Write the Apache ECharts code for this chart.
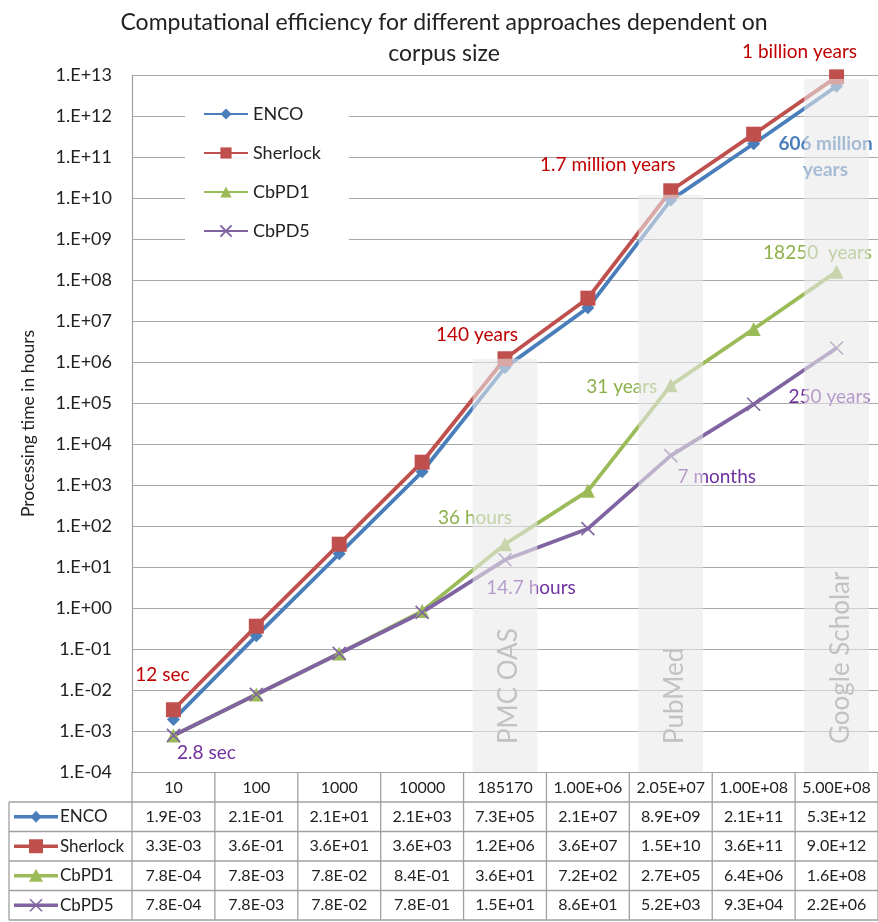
<!DOCTYPE html>
<html>
<head>
<meta charset="utf-8">
<script src="https://cdn.jsdelivr.net/npm/echarts@6/dist/echarts.min.js"></script>
<style>
  html, body { margin: 0; padding: 0; background: #fff; }
  #chart { width: 878px; height: 922px; }
</style>
</head>
<body>
<div id="chart"></div>
<script>
// Corpus sizes (number of documents) and processing time in hours per approach
const categories = ['10', '100', '1000', '10000', '185170', '1.00E+06', '2.05E+07', '1.00E+08', '5.00E+08'];
const seriesNames = ['ENCO', 'Sherlock', 'CbPD1', 'CbPD5'];
const enco     = [1.9e-3, 2.1e-1, 2.1e1, 2.1e3, 7.3e5, 2.1e7, 8.9e9, 2.1e11, 5.3e12];
const sherlock = [3.3e-3, 3.6e-1, 3.6e1, 3.6e3, 1.2e6, 3.6e7, 1.5e10, 3.6e11, 9.0e12];
const cbpd1    = [7.8e-4, 7.8e-3, 7.8e-2, 8.4e-1, 3.6e1, 7.2e2, 2.7e5, 6.4e6, 1.6e8];
const cbpd5    = [7.8e-4, 7.8e-3, 7.8e-2, 7.8e-1, 1.5e1, 8.6e1, 5.2e3, 9.3e4, 2.2e6];

// Real-world corpora highlighted on the chart
const corpusNames = ['PMC OAS', 'PubMed', 'Google Scholar'];
const corpusIndex = [4, 6, 8];
const corpusTop   = [1.2e6, 1.2e10, 8.0e12];

// Human-readable durations attached to selected points: [series, category index, text]
const durationNotes = [
  ['Sherlock', 0, '12 sec'],
  ['CbPD5', 0, '2.8 sec'],
  ['Sherlock', 4, '140 years'],
  ['CbPD1', 4, '36 hours'],
  ['CbPD5', 4, '14.7 hours'],
  ['CbPD1', 6, '31 years'],
  ['CbPD5', 6, '7 months'],
  ['Sherlock', 6, '1.7 million years'],
  ['ENCO', 8, '606 million\nyears'],
  ['Sherlock', 8, '1 billion years'],
  ['CbPD1', 8, '18250  years'],
  ['CbPD5', 8, '250 years']
];

const yMin = 1e-4, yMax = 1e13;

const FONT = 'Lato';
const seriesValues = { ENCO: enco, Sherlock: sherlock, CbPD1: cbpd1, CbPD5: cbpd5 };
const seriesColor = { ENCO: '#4a7ebb', Sherlock: '#c0504d', CbPD1: '#9bbb59', CbPD5: '#8064a2' };
const crossPath = 'path://M0,0L10,10M10,0L0,10';
const seriesSymbol = {
  ENCO: ['diamond', 13],
  Sherlock: ['rect', 15],
  CbPD1: ['triangle', 14],
  CbPD5: [crossPath, 13]
};
const noteColor = { ENCO: '#4a7ebb', Sherlock: '#c00000', CbPD1: '#8cb04a', CbPD5: '#7030a0' };
// label placement (pixel offsets from the point)
const noteOffset = {
  'Sherlock-0': [-11, -35],
  'CbPD5-0': [33, 17],
  'Sherlock-4': [-28, -24],
  'CbPD1-4': [-30, -26],
  'CbPD5-4': [26, 28],
  'CbPD1-6': [-49, 2],
  'CbPD5-6': [46, 21],
  'Sherlock-6': [-63, -26],
  'ENCO-8': [-11, 71],
  'Sherlock-8': [-37, -25],
  'CbPD1-8': [-19, -19],
  'CbPD5-8': [-7, 49]
};

function sci(v) {
  const parts = v.toExponential(1).split('e');
  const e = parseInt(parts[1], 10);
  return parts[0].toUpperCase() + 'E' + (e < 0 ? '-' : '+') + String(Math.abs(e)).padStart(2, '0');
}
function powLabel(v) {
  const e = Math.round(Math.log10(v));
  return '1.E' + (e < 0 ? '-' : '+') + String(Math.abs(e)).padStart(2, '0');
}

function buildSeries(name) {
  const vals = seriesValues[name];
  const data = vals.map((v, i) => {
    const note = durationNotes.find(n => n[0] === name && n[1] === i);
    if (!note) return v;
    const isEnco = name === 'ENCO';
    return {
      value: v,
      label: {
        show: true,
        position: 'inside',
        offset: noteOffset[name + '-' + i],
        formatter: note[2],
        color: noteColor[name],
        fontFamily: FONT,
        fontSize: 19,
        fontWeight: isEnco ? 'bold' : 'normal',
        lineHeight: 26,
        align: 'center',
        verticalAlign: 'middle'
      }
    };
  });
  const isCross = name === 'CbPD5';
  return {
    name: name,
    type: 'line',
    data: data,
    z: 2,
    symbol: seriesSymbol[name][0],
    symbolSize: seriesSymbol[name][1],
    showAllSymbol: true,
    lineStyle: { color: seriesColor[name], width: 3.8 },
    itemStyle: isCross
      ? { color: seriesColor[name], borderColor: seriesColor[name], borderWidth: 1.6 }
      : { color: seriesColor[name] },
    emphasis: { disabled: true },
    animation: false
  };
}

const chart = echarts.init(document.getElementById('chart'), null, { renderer: 'canvas' });

const option = {
  animation: false,
  backgroundColor: '#ffffff',
  textStyle: { fontFamily: FONT },
  title: {
    text: 'Computational efficiency for different approaches dependent on\ncorpus size',
    left: 439,
    textAlign: 'center',
    top: 2,
    textStyle: { fontFamily: FONT, fontSize: 23, fontWeight: 'normal', color: '#222', lineHeight: 31 }
  },
  legend: {
    orient: 'vertical',
    left: 185,
    top: 92,
    padding: [13, 28, 13, 18],
    backgroundColor: '#ffffff',
    itemGap: 21,
    itemWidth: 44,
    itemHeight: 14,
    data: seriesNames,
    textStyle: { fontFamily: FONT, fontSize: 18, color: '#222', lineHeight: 18 },
    selectedMode: false
  },
  grid: { left: 132, top: 75, width: 750, height: 697 },
  xAxis: {
    type: 'category',
    data: categories,
    boundaryGap: true,
    axisLine: { lineStyle: { color: '#a0a0a0', width: 1.2 } },
    axisTick: { show: false },
    axisLabel: { interval: 0, margin: 8, fontFamily: FONT, fontSize: 16, color: '#222' },
    splitLine: { show: false }
  },
  yAxis: {
    type: 'log',
    logBase: 10,
    min: yMin,
    max: yMax,
    interval: 1,
    splitNumber: 17,
    name: 'Processing time in hours',
    nameLocation: 'middle',
    nameGap: 95,
    nameTextStyle: { fontFamily: FONT, fontSize: 17.5, color: '#222' },
    axisLine: { show: true, lineStyle: { color: '#a0a0a0', width: 1.2 } },
    axisTick: { show: false },
    axisLabel: { margin: 20, fontFamily: FONT, fontSize: 18, color: '#222', formatter: powLabel },
    splitLine: { show: true, lineStyle: { color: '#a8a8a8', width: 1.2 } },
    minorTick: { show: false },
    minorSplitLine: { show: false }
  },
  series: seriesNames.map(buildSeries).concat([{
    name: 'corpora',
    type: 'custom',
    z: 10,
    silent: true,
    data: corpusIndex.map((ci, k) => [ci, corpusTop[k]]),
    encode: { x: 0, y: 1 },
    renderItem: function (params, api) {
      const idx = api.value(0);
      const top = api.value(1);
      const pTop = api.coord([idx, top]);
      const pBot = api.coord([idx, yMin]);
      const w = api.size([1, 1])[0] * 0.78;
      return {
        type: 'group',
        children: [
          {
            type: 'rect',
            shape: { x: pTop[0] - w / 2, y: pTop[1], width: w, height: pBot[1] - pTop[1] },
            style: { fill: 'rgba(232,232,232,0.58)' }
          },
          {
            type: 'text',
            x: pTop[0] + 4,
            y: pBot[1] - 28,
            rotation: Math.PI / 2,
            style: {
              text: corpusNames[params.dataIndex],
              fill: '#c2c2c2',
              font: '26px ' + FONT,
              align: 'left',
              verticalAlign: 'middle'
            }
          }
        ]
      };
    },
    animation: false
  }])
};

chart.setOption(option);

// Data table underneath the plot, aligned with the category columns
(function drawTable() {
  const lineColor = '#a0a0a0';
  const centers = categories.map((c, i) => chart.convertToPixel({ xAxisIndex: 0 }, i));
  const colW = centers[1] - centers[0];
  const left = 9;
  const axisX = centers[0] - colW / 2;
  const rightX = centers[centers.length - 1] + colW / 2;
  const headTop = chart.convertToPixel({ yAxisIndex: 0 }, yMin);
  const headH = 30;
  const rowH = 29.5;
  const g = [];
  const line = (x1, y1, x2, y2) => g.push({
    type: 'line', silent: true, z: 5,
    shape: { x1: x1, y1: y1, x2: x2, y2: y2 },
    style: { stroke: lineColor, lineWidth: 1.3 }
  });
  const text = (t, x, y, size, align) => g.push({
    type: 'text', silent: true, z: 5, x: x, y: y,
    style: { text: t, font: size + 'px ' + FONT, fill: '#222', align: align || 'center', verticalAlign: 'middle' }
  });

  const bodyTop = headTop + headH;
  const bottom = bodyTop + rowH * seriesNames.length;
  // vertical dividers
  for (let i = 0; i <= categories.length; i++) {
    const x = axisX + i * colW;
    line(x, headTop, x, bottom);
  }
  line(left, bodyTop, left, bottom);
  // horizontal rules
  for (let r = 0; r <= seriesNames.length; r++) {
    const y = bodyTop + r * rowH;
    line(left, y, rightX, y);
  }

  seriesNames.forEach((name, r) => {
    const cy = bodyTop + r * rowH + rowH / 2;
    const col = seriesColor[name];
    // legend key: line with marker
    g.push({ type: 'line', silent: true, z: 6, shape: { x1: 14, y1: cy, x2: 58, y2: cy },
      style: { stroke: col, lineWidth: 3.5 } });
    const mx = 36;
    if (name === 'ENCO') {
      g.push({ type: 'polygon', silent: true, z: 7,
        shape: { points: [[mx, cy - 6], [mx + 5.5, cy], [mx, cy + 6], [mx - 5.5, cy]] }, style: { fill: col } });
    } else if (name === 'Sherlock') {
      g.push({ type: 'rect', silent: true, z: 7,
        shape: { x: mx - 7, y: cy - 7, width: 14, height: 14 }, style: { fill: col } });
    } else if (name === 'CbPD1') {
      g.push({ type: 'polygon', silent: true, z: 7,
        shape: { points: [[mx, cy - 7], [mx + 7, cy + 6], [mx - 7, cy + 6]] }, style: { fill: col } });
    } else {
      g.push({ type: 'line', silent: true, z: 7, shape: { x1: mx - 6, y1: cy - 6, x2: mx + 6, y2: cy + 6 },
        style: { stroke: col, lineWidth: 1.6 } });
      g.push({ type: 'line', silent: true, z: 7, shape: { x1: mx + 6, y1: cy - 6, x2: mx - 6, y2: cy + 6 },
        style: { stroke: col, lineWidth: 1.6 } });
    }
    text(name, 60, cy, 17, 'left');
    seriesValues[name].forEach((v, i) => text(sci(v), centers[i], cy, 16, 'center'));
  });

  chart.setOption({ graphic: g });
})();
</script>
</body>
</html>
